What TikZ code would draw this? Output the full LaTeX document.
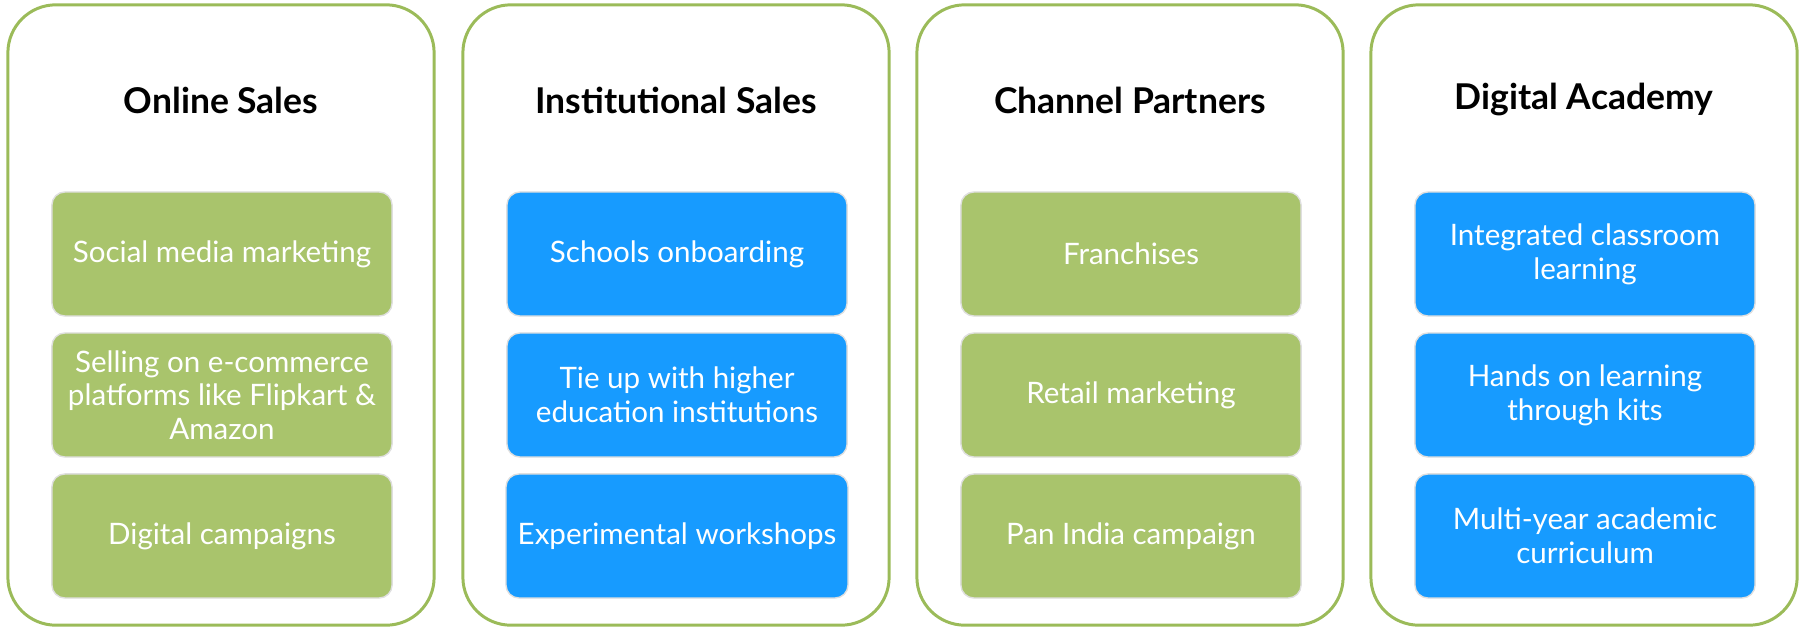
\documentclass[tikz,border=0pt]{standalone}
\usepackage{fontspec}
\setmainfont{Lato}
\usetikzlibrary{positioning}

\definecolor{framegreen}{HTML}{9BBB59}
\definecolor{leafgreen}{HTML}{A9C46C}
\definecolor{skyblue}{HTML}{179BFF}

\tikzset{
    channel/.style={draw=framegreen, line width=0.85pt, rounded corners=0.48cm,
        minimum width=4.26cm, minimum height=6.2cm},
    heading/.style={font=\fontsize{10.1}{12}\selectfont\bfseries, text=black},
    item/.style={rounded corners=0.13cm, draw=gray!25, line width=0.4pt,
        minimum width=3.4cm, minimum height=1.24cm, align=center, text=white,
        font=\fontsize{8.4}{9.6}\selectfont},
    greenitem/.style={item, fill=leafgreen},
    blueitem/.style={item, fill=skyblue}
}

\begin{document}
\begin{tikzpicture}[x=0.01cm, y=-0.01cm]
    \useasboundingbox (0,0) rectangle (1801,627);

    % Online Sales
    \node[channel] (online) at (221,315) {};
    \node[heading] (onlinehead) at (221,100) {Online Sales};
    \node[greenitem] (social) at (222,254) {Social media marketing};
    \node[greenitem, below=0.155cm of social] (ecom) {Selling on e-commerce\\platforms like Flipkart \&\\Amazon};
    \node[greenitem, below=0.155cm of ecom] (campaigns) {Digital campaigns};

    % Institutional Sales
    \node[channel] (inst) at (676,315) {};
    \node[heading] (insthead) at (676,100) {Institutional Sales};
    \node[blueitem] (schools) at (677,254) {Schools onboarding};
    \node[blueitem, below=0.155cm of schools] (higher) {Tie up with higher\\education institutions};
    \node[blueitem, below=0.155cm of higher] (workshops) {Experimental workshops};

    % Channel Partners
    \node[channel] (partners) at (1130,315) {};
    \node[heading] (partnershead) at (1130,100) {Channel Partners};
    \node[greenitem] (franchises) at (1131,254) {Franchises};
    \node[greenitem, below=0.155cm of franchises] (retail) {Retail marketing};
    \node[greenitem, below=0.155cm of retail] (panindia) {Pan India campaign};

    % Digital Academy
    \node[channel] (academy) at (1584,315) {};
    \node[heading] (academyhead) at (1584,100) {Digital Academy};
    \node[blueitem] (classroom) at (1585,254) {Integrated classroom\\learning};
    \node[blueitem, below=0.155cm of classroom] (kits) {Hands on learning\\through kits};
    \node[blueitem, below=0.155cm of kits] (curriculum) {Multi-year academic\\curriculum};
\end{tikzpicture}
\end{document}
